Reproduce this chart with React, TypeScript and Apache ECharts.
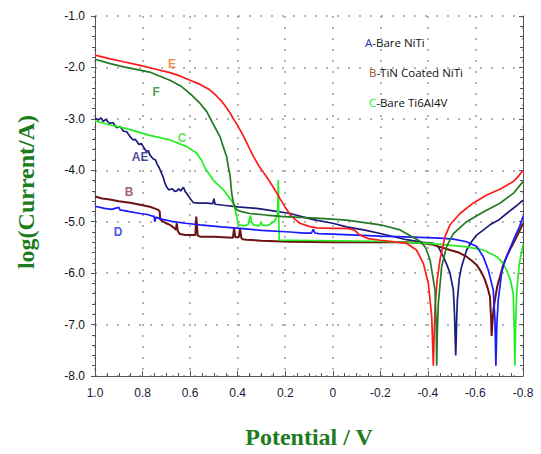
import React, { useEffect, useRef } from "react";
import * as echarts from "echarts";

// Potential (V) vs log(Current/A)
const curveA: [number, number][] = [
  [1.0, -2.99], [0.985, -3.02], [0.975, -2.98], [0.965, -3.05], [0.955, -3.01], [0.945, -3.06],
  [0.937, -3.09], [0.925, -3.07], [0.91, -3.17], [0.895, -3.15], [0.88, -3.24], [0.867, -3.25],
  [0.855, -3.33], [0.84, -3.41], [0.83, -3.4], [0.815, -3.5], [0.805, -3.48], [0.797, -3.54],
  [0.785, -3.63], [0.775, -3.62], [0.77, -3.7], [0.755, -3.78], [0.745, -3.8], [0.74, -3.87],
  [0.73, -3.95], [0.72, -4.06], [0.712, -4.15], [0.706, -4.25], [0.698, -4.33], [0.69, -4.38],
  [0.675, -4.36], [0.665, -4.41], [0.656, -4.4], [0.648, -4.36], [0.64, -4.4], [0.628, -4.33],
  [0.62, -4.42], [0.614, -4.45], [0.6, -4.55], [0.586, -4.63], [0.56, -4.64], [0.53, -4.64],
  [0.505, -4.65], [0.5, -4.55], [0.495, -4.66], [0.46, -4.68], [0.4, -4.71], [0.32, -4.74],
  [0.25, -4.79], [0.18, -4.84], [0.082, -4.96], [0.0, -5.03], [-0.058, -5.1], [-0.13, -5.16],
  [-0.2, -5.23], [-0.31, -5.35], [-0.38, -5.4], [-0.423, -5.42], [-0.445, -5.5], [-0.465, -5.68],
  [-0.48, -5.84], [-0.493, -6.0], [-0.507, -6.33], [-0.512, -6.8], [-0.515, -7.3], [-0.517, -7.6],
  [-0.519, -7.3], [-0.521, -6.9], [-0.524, -6.52], [-0.532, -6.1], [-0.542, -5.87], [-0.563, -5.55],
  [-0.585, -5.38], [-0.605, -5.26], [-0.661, -5.06], [-0.7, -4.96], [-0.731, -4.84], [-0.77, -4.7],
  [-0.8, -4.58],
];

const curveB: [number, number][] = [
  [1.0, -4.51], [0.97, -4.55], [0.937, -4.57], [0.9, -4.6], [0.853, -4.63], [0.81, -4.67],
  [0.769, -4.71], [0.745, -4.75], [0.734, -4.77], [0.728, -4.8], [0.726, -4.95], [0.72, -4.98],
  [0.7, -5.03], [0.685, -5.06], [0.665, -5.13], [0.66, -5.16], [0.656, -5.03], [0.652, -5.18],
  [0.643, -5.24], [0.62, -5.26], [0.578, -5.26], [0.574, -4.9], [0.568, -5.27], [0.558, -5.29],
  [0.5, -5.29], [0.46, -5.3], [0.42, -5.31], [0.415, -5.13], [0.41, -5.3], [0.395, -5.3],
  [0.39, -5.13], [0.385, -5.31], [0.38, -5.34], [0.362, -5.35], [0.3, -5.37], [0.18, -5.39],
  [0.0, -5.4], [-0.2, -5.4], [-0.31, -5.4], [-0.38, -5.42], [-0.423, -5.45], [-0.493, -5.55],
  [-0.53, -5.6], [-0.563, -5.68], [-0.585, -5.76], [-0.605, -5.84], [-0.625, -5.98], [-0.64, -6.13],
  [-0.652, -6.3], [-0.661, -6.46], [-0.666, -6.9], [-0.668, -7.22], [-0.671, -7.0], [-0.676, -6.7],
  [-0.682, -6.52], [-0.692, -6.25], [-0.703, -6.07], [-0.716, -5.85], [-0.731, -5.68], [-0.75, -5.5],
  [-0.766, -5.36], [-0.785, -5.18], [-0.8, -5.03],
];

const curveC: [number, number][] = [
  [1.0, -3.04], [0.937, -3.12], [0.867, -3.19], [0.77, -3.32], [0.685, -3.41], [0.614, -3.54],
  [0.572, -3.67], [0.55, -3.82], [0.537, -3.96], [0.503, -4.19], [0.46, -4.38], [0.418, -4.64],
  [0.404, -4.9], [0.397, -5.06], [0.369, -5.08], [0.355, -5.05], [0.35, -4.93], [0.346, -4.88],
  [0.342, -5.0], [0.334, -5.06], [0.31, -5.08], [0.3, -5.02], [0.295, -5.07], [0.27, -5.07],
  [0.243, -4.98], [0.232, -4.85], [0.229, -4.19], [0.227, -5.0], [0.225, -5.36], [0.18, -5.36],
  [0.0, -5.37], [-0.2, -5.38], [-0.4, -5.42], [-0.5, -5.46], [-0.563, -5.49], [-0.633, -5.55],
  [-0.69, -5.68], [-0.715, -5.8], [-0.731, -5.94], [-0.748, -6.15], [-0.759, -6.4], [-0.763, -7.0],
  [-0.766, -7.8], [-0.769, -7.0], [-0.774, -6.33], [-0.785, -5.8], [-0.8, -5.45],
];

const curveD: [number, number][] = [
  [1.0, -4.7], [0.96, -4.74], [0.93, -4.76], [0.9, -4.72], [0.895, -4.77], [0.86, -4.8],
  [0.81, -4.84], [0.78, -4.86], [0.76, -4.89], [0.752, -4.89], [0.748, -5.0], [0.744, -4.91],
  [0.72, -4.95], [0.67, -5.0], [0.62, -5.03], [0.558, -5.06], [0.47, -5.1], [0.39, -5.13],
  [0.3, -5.17], [0.18, -5.2], [0.12, -5.22], [0.09, -5.22], [0.082, -5.15], [0.075, -5.22],
  [0.06, -5.23], [0.0, -5.24], [-0.2, -5.28], [-0.337, -5.3], [-0.45, -5.32], [-0.507, -5.34],
  [-0.563, -5.39], [-0.605, -5.48], [-0.633, -5.68], [-0.654, -5.94], [-0.675, -6.33],
  [-0.682, -6.9], [-0.686, -7.8], [-0.69, -7.0], [-0.696, -6.52], [-0.71, -6.0], [-0.72, -5.82],
  [-0.731, -5.68], [-0.75, -5.47], [-0.766, -5.29], [-0.785, -5.1], [-0.8, -4.9],
];

const curveE: [number, number][] = [
  [1.0, -1.76], [0.94, -1.83], [0.88, -1.89], [0.81, -1.96], [0.74, -2.04], [0.685, -2.1],
  [0.64, -2.17], [0.6, -2.25], [0.558, -2.33], [0.516, -2.44], [0.488, -2.56], [0.465, -2.67],
  [0.446, -2.79], [0.43, -2.9], [0.418, -3.0], [0.4, -3.13], [0.376, -3.33], [0.35, -3.58],
  [0.334, -3.73], [0.31, -3.92], [0.278, -4.13], [0.25, -4.33], [0.222, -4.55], [0.2, -4.72],
  [0.18, -4.86], [0.16, -4.95], [0.138, -5.03], [0.1, -5.09], [0.068, -5.12], [0.0, -5.13],
  [-0.058, -5.13], [-0.09, -5.16], [-0.114, -5.26], [-0.15, -5.33], [-0.2, -5.36], [-0.26, -5.39],
  [-0.31, -5.42], [-0.352, -5.55], [-0.381, -5.81], [-0.402, -6.2], [-0.416, -6.84], [-0.423, -7.8],
  [-0.427, -7.1], [-0.431, -6.6], [-0.44, -6.1], [-0.451, -5.74], [-0.472, -5.29], [-0.493, -5.06],
  [-0.535, -4.84], [-0.59, -4.64], [-0.647, -4.48], [-0.703, -4.37], [-0.759, -4.22], [-0.78, -4.12],
  [-0.8, -4.0],
];

const curveF: [number, number][] = [
  [1.0, -1.84], [0.94, -1.92], [0.88, -1.99], [0.77, -2.09], [0.685, -2.25], [0.64, -2.36],
  [0.6, -2.51], [0.558, -2.7], [0.53, -2.86], [0.503, -3.1], [0.474, -3.35], [0.46, -3.55],
  [0.446, -3.74], [0.44, -3.92], [0.432, -4.1], [0.425, -4.45], [0.418, -4.64], [0.404, -4.77],
  [0.38, -4.81], [0.348, -4.84], [0.28, -4.87], [0.208, -4.9], [0.068, -4.93], [-0.058, -4.97],
  [-0.2, -5.06], [-0.283, -5.16], [-0.337, -5.3], [-0.367, -5.38], [-0.39, -5.5], [-0.409, -5.74],
  [-0.43, -6.33], [-0.435, -7.0], [-0.437, -7.8], [-0.44, -7.1], [-0.444, -6.58], [-0.458, -5.87],
  [-0.479, -5.48], [-0.507, -5.23], [-0.563, -5.0], [-0.633, -4.81], [-0.703, -4.64],
  [-0.759, -4.45], [-0.8, -4.22],
];

const seriesNames = ["A", "B", "C", "D", "E", "F"];
const seriesColors = ["#1c1c7c", "#6b1111", "#22ee22", "#1a1aff", "#ff1a1a", "#237a23"];
const seriesData = [curveA, curveB, curveC, curveD, curveE, curveF];

// in-plot curve tags (text, anchor potential, anchor log current)
const tagTexts = ["E", "F", "C", "AE", "B", "D"];
const tagPoints: [number, number][] = [
  [0.676, -1.94], [0.743, -2.48], [0.634, -3.37], [0.81, -3.74], [0.857, -4.43], [0.903, -5.2],
];
const tagColors = ["#f07020", "#1f7f1f", "#33dd33", "#1b1b80", "#8b3060", "#2020f0"];

const legendKeys = ["A", "B", "C"];
const legendTexts = ["-Bare NiTi", "-TiN Coated NiTi", "-Bare Ti6Al4V"];
const legendKeyColors = ["#2b2bb0", "#a0522d", "#22ee22"];

const fmtX = (v: number) => (Math.abs(v) < 1e-9 ? "0" : v.toFixed(1));
const fmtY = (v: number) => v.toFixed(1);

export default function App() {
  const ref = useRef<HTMLDivElement>(null);
  useEffect(() => {
    if (!ref.current) return;
    const chart = echarts.init(ref.current, null, { renderer: "svg" });
    const axisColor = "#555";
    const gridLine = { show: true, lineStyle: { color: "#9a9a9a", type: [2, 9], width: 1.5 } };
    const lineSeries = seriesData.map((d, i) => ({
      name: seriesNames[i],
      type: "line",
      data: d,
      showSymbol: false,
      symbol: "none",
      lineStyle: { color: seriesColors[i], width: i === 1 ? 2 : 1.7 },
      z: 2 + i,
    }));
    const tagSeries = {
      type: "scatter",
      symbolSize: 0,
      z: 20,
      data: tagPoints.map((p, i) => ({
        value: p,
        label: {
          show: true,
          position: "inside",
          formatter: tagTexts[i],
          color: tagColors[i],
          fontWeight: "bold",
          fontSize: 12,
          fontFamily: "Liberation Sans",
        },
      })),
    };
    const legendGraphics = legendKeys.map((k, i) => ({
      type: "text",
      x: i === 0 ? 365 : 369,
      y: 42 + i * 30,
      style: {
        text: `{k|${k}}${legendTexts[i]}`,
        fill: "#111",
        font: '11.5px "Open Sans"',
        verticalAlign: "middle",
        align: "left",
        rich: {
          k: { fill: legendKeyColors[i], fontSize: 11.5, fontFamily: "Open Sans" },
        },
      },
    }));
    chart.setOption({
      animation: false,
      backgroundColor: "#fff",
      grid: { left: 95, right: 18, top: 16, bottom: 78 },
      xAxis: {
        type: "value",
        min: -0.8,
        max: 1.0,
        interval: 0.2,
        inverse: true,
        axisLine: { show: true, onZero: false, lineStyle: { color: axisColor } },
        axisTick: { show: true, inside: true, length: 5, lineStyle: { color: axisColor } },
        minorTick: { show: true, splitNumber: 4, length: 3, lineStyle: { color: axisColor } },
        axisLabel: {
          formatter: fmtX,
          color: "#1a1a40",
          fontSize: 12,
          fontFamily: "Liberation Sans",
          margin: 11,
        },
        splitLine: gridLine,
      },
      yAxis: [
        {
          type: "value",
          min: -8,
          max: -1,
          interval: 1,
          position: "left",
          axisLine: { show: true, onZero: false, lineStyle: { color: axisColor } },
          axisTick: { show: true, inside: false, length: 4, lineStyle: { color: axisColor } },
          minorTick: { show: true, splitNumber: 5, length: 3, lineStyle: { color: axisColor } },
          axisLabel: {
            formatter: fmtY,
            color: "#111",
            fontSize: 12,
            fontFamily: "Liberation Sans",
            margin: 10,
          },
          splitLine: gridLine,
        },
        {
          type: "value",
          min: -8,
          max: -1,
          interval: 1,
          position: "right",
          axisLine: { show: true, onZero: false, lineStyle: { color: axisColor } },
          axisTick: { show: true, inside: true, length: 4, lineStyle: { color: axisColor } },
          minorTick: { show: true, splitNumber: 5, length: 3, lineStyle: { color: axisColor } },
          axisLabel: { show: false },
          splitLine: { show: false },
        },
      ],
      series: [...lineSeries, tagSeries],
      graphic: [
        {
          type: "text",
          x: 26,
          y: 192,
          rotation: Math.PI / 2,
          style: {
            text: "log(Current/A)",
            fill: "#1e7b1e",
            font: 'bold 24px "Liberation Serif"',
            align: "center",
            verticalAlign: "middle",
          },
        },
        {
          type: "text",
          x: 309,
          y: 437,
          style: {
            text: "Potential / V",
            fill: "#1e7b1e",
            font: 'bold 24px "Liberation Serif"',
            align: "center",
            verticalAlign: "middle",
          },
        },
        ...legendGraphics,
      ],
    });
    return () => chart.dispose();
  }, []);
  return (
    <div
      ref={ref}
      style={{ position: "fixed", left: 0, top: 0, width: 541, height: 454, background: "#fff" }}
    />
  );
}
